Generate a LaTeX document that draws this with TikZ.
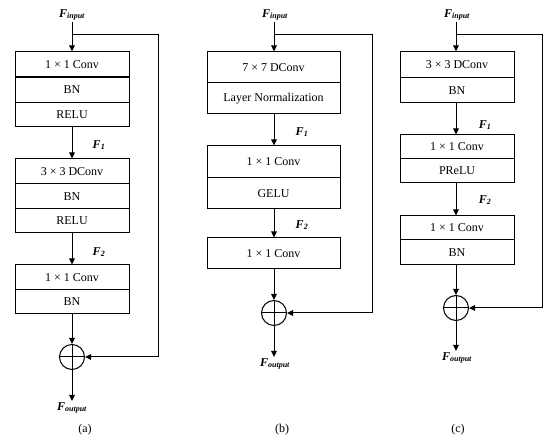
\documentclass[tikz,border=0pt]{standalone}
\usepackage{fontspec}
\setmainfont{Liberation Serif}
\usetikzlibrary{arrows.meta}
\begin{document}
\begin{tikzpicture}[x=1pt,y=-1pt,
  lw/.style={line width=1pt},
  cell/.style={draw, lw, inner sep=0pt, font=\fontsize{12}{14}\selectfont},
  arr/.style={lw, -{Triangle[length=6pt,width=5.5pt]}},
  ln/.style={lw},
  sumnode/.style={draw, lw, circle, minimum size=25pt, inner sep=0pt},
  flab/.style={font=\fontsize{12}{14}\selectfont\bfseries\itshape, inner sep=1pt},
  captxt/.style={font=\fontsize{12}{14}\selectfont}]
\useasboundingbox (0,0) rectangle (550,443);

% ---------- panel (a) ----------
\node[flab] (fia) at (72,15) {F\textsubscript{input}};
\coordinate (ta) at (72,35);
\coordinate (ra) at (158,35);
\node[cell, minimum width=114pt, minimum height=25pt] (a1) at (72,64.5) {1 × 1 Conv};
\node[cell, minimum width=114pt, minimum height=26pt] (a2) at (72,90) {BN};
\node[cell, minimum width=114pt, minimum height=24pt] (a3) at (72,115) {RELU};
\draw[line width=1.7pt] (a1.south west) -- (a1.south east);
\node[cell, minimum width=114pt, minimum height=25pt] (a4) at (72,171.5) {3 × 3 DConv};
\node[cell, minimum width=114pt, minimum height=25pt] (a5) at (72,196.5) {BN};
\node[cell, minimum width=114pt, minimum height=24pt] (a6) at (72,221) {RELU};
\node[cell, minimum width=114pt, minimum height=25pt] (a7) at (72,277.5) {1 × 1 Conv};
\node[cell, minimum width=114pt, minimum height=24pt] (a8) at (72,302) {BN};
\node[sumnode] (sa) at (72,357) {};
\draw[ln] (sa.north) -- (sa.south) (sa.west) -- (sa.east);
\node[flab] (f1a) at (99,145) {F\textsubscript{1}};
\node[flab] (f2a) at (99,252) {F\textsubscript{2}};
\node[flab, anchor=north] (foa) at (72,401) {F\textsubscript{output}};
\node[captxt] (capa) at (85,430) {(a)};
\draw[arr] (fia.south) -- (a1.north);
\draw[arr] (ta) -- (ra) |- (sa.east);
\draw[arr] (a3.south) -- (a4.north);
\draw[arr] (a6.south) -- (a7.north);
\draw[arr] (a8.south) -- (sa.north);
\draw[arr] (sa.south) -- (foa.north);

% ---------- panel (b) ----------
\node[flab] (fib) at (275,15) {F\textsubscript{input}};
\coordinate (tb) at (274,35);
\coordinate (rb) at (372,35);
\node[cell, minimum width=133pt, minimum height=31pt] (b1) at (273.5,67.5) {7 × 7 DConv};
\node[cell, minimum width=133pt, minimum height=31pt] (b2) at (273.5,98.5) {Layer Normalization};
\node[cell, minimum width=133pt, minimum height=32pt] (b3) at (273.5,162) {1 × 1 Conv};
\node[cell, minimum width=133pt, minimum height=31pt] (b4) at (273.5,193.5) {GELU};
\node[cell, minimum width=133pt, minimum height=31pt] (b5) at (273.5,253.5) {1 × 1 Conv};
\node[sumnode] (sb) at (274,313) {};
\draw[ln] (sb.north) -- (sb.south) (sb.west) -- (sb.east);
\node[flab] (f1b) at (302,132) {F\textsubscript{1}};
\node[flab] (f2b) at (302,225) {F\textsubscript{2}};
\node[flab, anchor=north] (fob) at (275,357) {F\textsubscript{output}};
\node[captxt] (capb) at (282,430) {(b)};
\draw[arr] (fib.south -| tb) -- (tb |- b1.north);
\draw[arr] (tb) -- (rb) |- (sb.east);
\draw[arr] (b2.south -| tb) -- (tb |- b3.north);
\draw[arr] (b4.south -| tb) -- (tb |- b5.north);
\draw[arr] (b5.south -| tb) -- (sb.north);
\draw[arr] (sb.south) -- (sb.south |- fob.north);

% ---------- panel (c) ----------
\node[flab] (fic) at (457,15) {F\textsubscript{input}};
\coordinate (tc) at (456,35);
\coordinate (rc) at (542,35);
\node[cell, minimum width=114pt, minimum height=26pt] (c1) at (457,65) {3 × 3 DConv};
\node[cell, minimum width=114pt, minimum height=25pt] (c2) at (457,90.5) {BN};
\node[cell, minimum width=114pt, minimum height=24pt] (c3) at (457,147) {1 × 1 Conv};
\node[cell, minimum width=114pt, minimum height=24pt] (c4) at (457,171) {PReLU};
\node[cell, minimum width=114pt, minimum height=24pt] (c5) at (457,228) {1 × 1 Conv};
\node[cell, minimum width=114pt, minimum height=25pt] (c6) at (457,252.5) {BN};
\node[sumnode] (sc) at (456,308) {};
\draw[ln] (sc.north) -- (sc.south) (sc.west) -- (sc.east);
\node[flab] (f1c) at (485,125) {F\textsubscript{1}};
\node[flab] (f2c) at (485,200) {F\textsubscript{2}};
\node[flab, anchor=north] (foc) at (457,351) {F\textsubscript{output}};
\node[captxt] (capc) at (458,430) {(c)};
\draw[arr] (fic.south -| tc) -- (tc |- c1.north);
\draw[arr] (tc) -- (rc) |- (sc.east);
\draw[arr] (c2.south -| tc) -- (tc |- c3.north);
\draw[arr] (c4.south -| tc) -- (tc |- c5.north);
\draw[arr] (c6.south -| tc) -- (sc.north);
\draw[arr] (sc.south) -- (sc.south |- foc.north);
\end{tikzpicture}
\end{document}
